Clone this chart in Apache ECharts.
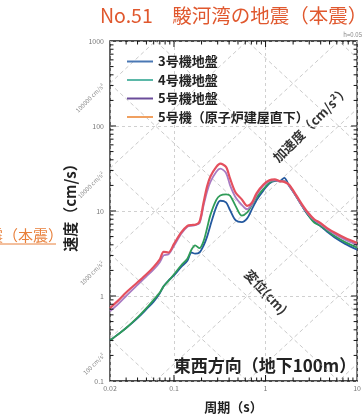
<!DOCTYPE html>
<html>
<head>
<meta charset="utf-8">
<script src="https://cdn.jsdelivr.net/npm/echarts@6/dist/echarts.min.js"></script>
<style>
  html, body { margin: 0; padding: 0; background: #fff; }
  #chart { width: 364px; height: 419px; }
</style>
</head>
<body>
<div id="chart"></div>
<script>
// periods (s) shared by all four response spectra
const periods = [0.02, 0.025, 0.03, 0.04, 0.05, 0.06, 0.07, 0.077, 0.087, 0.1,
  0.12, 0.14, 0.155, 0.17, 0.19, 0.21, 0.23, 0.25, 0.29, 0.32,
  0.37, 0.41, 0.47, 0.55, 0.63, 0.71, 0.8, 0.95, 1.1, 1.26,
  1.42, 1.6, 1.8, 2.15, 2.5, 2.9, 3.4, 4.0, 4.7, 5.8,
  7.4, 10];

// velocity (cm/s)
const unit3Ground = [0.30, 0.36, 0.42, 0.55, 0.70, 0.86, 1.08, 1.3, 1.52, 1.75,
  2.2, 2.6, 3.25, 3.15, 3.25, 3.9, 5.0, 6.8, 11.2, 13.2,
  12.6, 10.2, 7.8, 7.4, 8.2, 10.5, 13.5, 17.5, 21, 22.5,
  22.5, 24.5, 20, 15, 11.5, 9.0, 7.5, 6.6, 5.7, 4.8,
  4.1, 3.5];
const unit4Ground = [0.30, 0.36, 0.42, 0.56, 0.72, 0.9, 1.1, 1.3, 1.5, 1.8,
  2.3, 2.75, 3.5, 3.95, 3.65, 4.4, 6.3, 9.0, 13.5, 15.2,
  15.7, 15.1, 11.5, 8.8, 9.6, 11.8, 14.5, 18.2, 21.5, 22.8,
  22.3, 22.5, 20.2, 15, 11.5, 9.1, 7.3, 6.7, 5.9, 5.0,
  4.3, 3.7];
const unit5Ground = [0.66, 0.82, 1.0, 1.35, 1.7, 2.05, 2.5, 3.0, 3.1, 3.9,
  5.4, 6.5, 6.7, 6.8, 7.2, 11.5, 17, 22, 29, 31.5,
  28, 20, 14.5, 11.8, 10.5, 12, 15.5, 20, 22.5, 23,
  22.3, 22.5, 20, 15, 11.5, 9.3, 7.8, 7.0, 6.1, 5.3,
  4.6, 4.0];
const unit5Reactor = [0.72, 0.9, 1.1, 1.45, 1.8, 2.2, 2.7, 3.3, 3.25, 4.1,
  5.6, 6.7, 6.85, 6.9, 7.5, 12.5, 19.5, 25.5, 33, 36,
  33, 24, 16.5, 13.7, 11.5, 12.5, 16.3, 20.5, 23, 23.5,
  22.5, 22, 20.5, 15.5, 12, 9.6, 8.0, 7.2, 6.3, 5.5,
  4.8, 4.2];

const seriesNames = ['3号機地盤', '4号機地盤', '5号機地盤', '5号機（原子炉建屋直下）'];
const seriesValues = [unit3Ground, unit4Ground, unit5Ground, unit5Reactor];
const lineColors = ['#24599f', '#2f9c58', '#a87ac2', '#e4505e'];
const legendColors = ['#4a78b4', '#5bb8a8', '#6b4c9a', '#f0a060'];

// tripartite guide lines
const accelLevels = [0.1, 1, 10, 100, 1000, 10000, 100000];   // cm/s^2
const dispLevels = [0.001, 0.01, 0.1, 1, 10, 100, 1000];      // cm
const accelLabels = ['100000 cm/s²', '10000 cm/s²', '1000 cm/s²', '100 cm/s²'];

const xMin = 0.02, xMax = 10, yMin = 0.1, yMax = 1000;
const xMajor = [0.1, 1];
const yMajor = [1, 10, 100];
const xMinor = [];
const yMinor = [];
[0.01, 0.1, 1].forEach(b => { for (let k = 2; k <= 9; k++) { const t = +(b * k).toPrecision(2); if (t > xMin && t < xMax) xMinor.push(t); } });
[0.1, 1, 10, 100].forEach(b => { for (let k = 2; k <= 9; k++) yMinor.push(+(b * k).toPrecision(2)); });

const FONT = '"Noto Sans CJK JP", "Noto Sans", sans-serif';
const TWO_PI = 2 * Math.PI;

const chart = echarts.init(document.getElementById('chart'), null, { renderer: 'canvas' });

const guideStyle = { color: '#bdbdbd', width: 0.8, type: [4, 3] };
const guideSeries = [];
accelLevels.forEach(a => {
  guideSeries.push({
    type: 'line', silent: true, symbol: 'none', z: 1,
    lineStyle: guideStyle,
    data: [[xMin, a * xMin / TWO_PI], [xMax, a * xMax / TWO_PI]]
  });
});
dispLevels.forEach(d => {
  guideSeries.push({
    type: 'line', silent: true, symbol: 'none', z: 1,
    lineStyle: guideStyle,
    data: [[xMin, TWO_PI * d / xMin], [xMax, TWO_PI * d / xMax]]
  });
});

function tickLine(x1, y1, x2, y2) {
  return { type: 'line', shape: { x1, y1, x2, y2 }, style: { stroke: '#111', lineWidth: 1 } };
}

const tickSeries = [
  {
    type: 'custom', silent: true, z: 5,
    data: xMajor.map(t => [t, 6]).concat(xMinor.map(t => [t, 3.5])),
    renderItem: (params, api) => {
      const t = api.value(0), len = api.value(1);
      const b = api.coord([t, yMin]), u = api.coord([t, yMax]);
      return { type: 'group', children: [tickLine(b[0], b[1], b[0], b[1] - len), tickLine(u[0], u[1], u[0], u[1] + len)] };
    }
  },
  {
    type: 'custom', silent: true, z: 5,
    data: yMajor.map(v => [1, v, 6]).concat(yMinor.map(v => [1, v, 3.5])),
    renderItem: (params, api) => {
      const v = api.value(1), len = api.value(2);
      const l = api.coord([xMin, v]), r = api.coord([xMax, v]);
      return { type: 'group', children: [tickLine(l[0], l[1], l[0] + len, l[1]), tickLine(r[0], r[1], r[0] - len, r[1])] };
    }
  }
];

const dataSeries = seriesNames.map((name, i) => ({
  name,
  type: 'line',
  symbol: 'none',
  smooth: 0.3,
  z: 3,
  lineStyle: { color: lineColors[i], width: i === 3 ? 2.2 : 1.8 },
  itemStyle: { color: lineColors[i] },
  data: periods.map((t, j) => [t, seriesValues[i][j]])
}));

const accelLabelPos = [[90, 98], [91, 185], [92, 273], [94, 364]];

chart.setOption({
  animation: false,
  backgroundColor: '#fff',
  textStyle: { fontFamily: FONT },
  grid: { left: 110, right: 2, top: 41, bottom: 31, show: true, borderColor: '#111', borderWidth: 1.3, backgroundColor: 'transparent' },
  legend: {
    orient: 'vertical',
    left: 122,
    top: 50,
    itemGap: 5.5,
    itemWidth: 26,
    itemHeight: 2,
    icon: 'rect',
    textStyle: { fontSize: 13, fontWeight: 'bold', color: '#222', fontFamily: FONT },
    data: seriesNames.map((name, i) => ({ name, itemStyle: { color: legendColors[i] } }))
  },
  xAxis: {
    type: 'log',
    logBase: 10,
    min: xMin,
    max: xMax,
    axisLine: { show: false },
    axisTick: { show: false },
    splitLine: { show: true, lineStyle: { color: '#c4c4c4', width: 0.8, type: [3, 3] } },
    axisLabel: { fontSize: 7, color: '#777', margin: 4, showMinLabel: true, showMaxLabel: true, formatter: v => String(+(+v).toPrecision(2)) },
    name: '周期（s）',
    nameLocation: 'middle',
    nameGap: 20,
    nameTextStyle: { fontSize: 13, fontWeight: 'bold', color: '#222', fontFamily: FONT }
  },
  yAxis: {
    type: 'log',
    logBase: 10,
    min: yMin,
    max: yMax,
    axisLine: { show: false },
    axisTick: { show: false },
    splitLine: { show: true, lineStyle: { color: '#c4c4c4', width: 0.8, type: [3, 3] } },
    axisLabel: { fontSize: 7, color: '#777', margin: 6, formatter: v => String(+(+v).toPrecision(2)) }
  },
  series: guideSeries.concat(tickSeries, dataSeries),
  graphic: [
    {
      type: 'text', x: 100, y: 16,
      style: { text: 'No.51　駿河湾の地震（本震）', font: '19.5px ' + FONT, fill: '#e0582e', align: 'left', verticalAlign: 'middle' }
    },
    {
      type: 'text', x: 63, y: 235,
      style: { text: '地震（本震）', font: '15px ' + FONT, fill: '#e8803c', align: 'right', verticalAlign: 'middle' }
    },
    { type: 'line', shape: { x1: 0, y1: 244, x2: 56, y2: 244 }, style: { stroke: '#e8803c', lineWidth: 1 } },
    {
      type: 'text', x: 70, y: 204, rotation: Math.PI / 2,
      style: { text: '速度（cm/s）', font: 'bold 15px ' + FONT, fill: '#222', align: 'center', verticalAlign: 'middle' }
    },
    {
      type: 'text', x: 362, y: 35,
      style: { text: 'h=0.05', font: '6px ' + FONT, fill: '#888', align: 'right', verticalAlign: 'middle' }
    },
    {
      type: 'text', x: 265, y: 366,
      style: { text: '東西方向（地下100m）', font: 'bold 17px ' + FONT, fill: '#222', align: 'center', verticalAlign: 'middle' }
    },
    {
      type: 'text', x: 311, y: 124, rotation: Math.PI / 4,
      style: { text: '加速度（cm/s²）', font: 'bold 13px ' + FONT, fill: '#333', align: 'center', verticalAlign: 'middle' }
    },
    {
      type: 'text', x: 266, y: 292, rotation: -0.82,
      style: { text: '変位(cm)', font: 'bold 13px ' + FONT, fill: '#333', align: 'center', verticalAlign: 'middle' }
    }
  ].concat(accelLabels.map((t, i) => ({
    type: 'text', x: accelLabelPos[i][0], y: accelLabelPos[i][1], rotation: Math.PI / 4,
    style: { text: t, font: '6px ' + FONT, fill: '#888', align: 'center', verticalAlign: 'middle' }
  })))
});
</script>
</body>
</html>
